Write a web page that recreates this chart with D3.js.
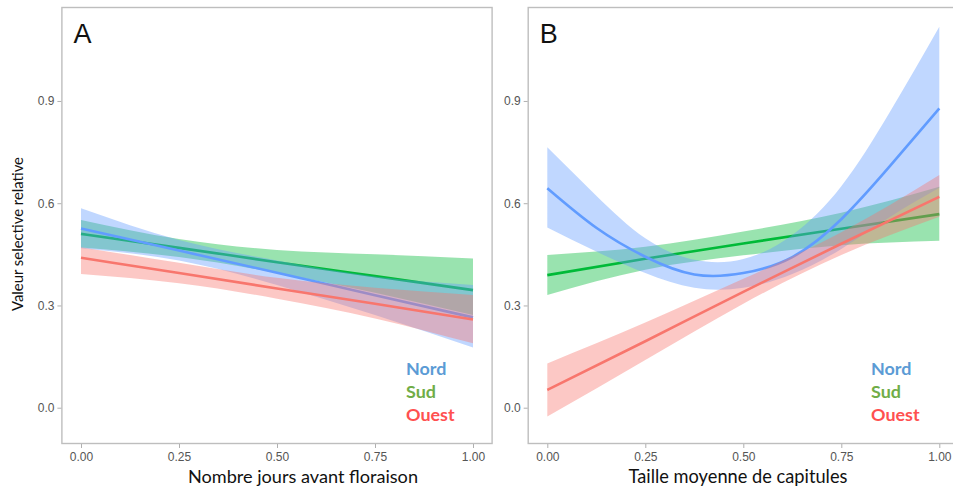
<!DOCTYPE html>
<html>
<head>
<meta charset="utf-8">
<script src="https://cdn.jsdelivr.net/npm/d3@7"></script>
<style>
  html, body { margin: 0; padding: 0; background: #fff; }
  svg { display: block; }
</style>
</head>
<body>
<svg id="chart" width="953" height="490"></svg>
<script>
// ---------- DATA ----------
const seriesNames = ["Nord", "Sud", "Ouest"];
const yTicks = [0.0, 0.3, 0.6, 0.9];
const xTicks = [0.00, 0.25, 0.50, 0.75, 1.00];

// Panel A : Nombre jours avant floraison
const xGridA   = [0, 0.25, 0.5, 0.75, 1];
const nordA_fit  = [0.526, 0.461, 0.396, 0.330, 0.265];
const nordA_lo   = [0.468, 0.432, 0.360, 0.272, 0.177];
const nordA_hi   = [0.585, 0.492, 0.432, 0.385, 0.360];
const sudA_fit   = [0.510, 0.469, 0.427, 0.386, 0.345];
const sudA_lo    = [0.470, 0.442, 0.395, 0.337, 0.272];
const sudA_hi    = [0.551, 0.495, 0.463, 0.450, 0.438];
const ouestA_fit = [0.440, 0.395, 0.350, 0.305, 0.259];
const ouestA_lo  = [0.392, 0.365, 0.320, 0.262, 0.189];
const ouestA_hi  = [0.471, 0.425, 0.381, 0.352, 0.331];

// Panel B : Taille moyenne de capitules
const xGridB_nord = [0, 0.125, 0.25, 0.375, 0.5, 0.625, 0.75, 0.875, 1];
const nordB_fit  = [0.644, 0.528, 0.443, 0.391, 0.395, 0.442, 0.553, 0.710, 0.878];
const nordB_lo   = [0.529, 0.458, 0.395, 0.352, 0.352, 0.392, 0.466, 0.560, 0.645];
const nordB_hi   = [0.764, 0.622, 0.497, 0.434, 0.436, 0.507, 0.650, 0.870, 1.118];
const xGridB     = [0, 0.25, 0.5, 0.75, 1];
const sudB_fit   = [0.389, 0.437, 0.482, 0.525, 0.568];
const sudB_lo    = [0.331, 0.405, 0.447, 0.477, 0.490];
const sudB_hi    = [0.448, 0.472, 0.517, 0.572, 0.648];
const ouestB_fit = [0.052, 0.195, 0.340, 0.481, 0.619];
const ouestB_lo  = [-0.026, 0.140, 0.305, 0.448, 0.560];
const ouestB_hi  = [0.130, 0.250, 0.378, 0.515, 0.683];

// ---------- STYLE ----------
const lineColors   = { Nord: "#619CFF", Sud: "#00BA38", Ouest: "#F8766D" };
const legendColors = { Nord: "#5B9BD5", Sud: "#70AD47", Ouest: "#FF5050" };
const drawOrder = ["Sud", "Nord", "Ouest"];

function build(xs, fit, lo, hi) {
  return xs.map((x, i) => ({ x: x, y: fit[i], lo: lo[i], hi: hi[i] }));
}

const panels = [
  {
    letter: "A", left: 61.4, right: 492.6, xTitle: "Nombre jours avant floraison",
    xTitleCenter: 303, xTitleWidth: 230, legendX: 406, showYTitle: true,
    series: {
      Nord: build(xGridA, nordA_fit, nordA_lo, nordA_hi),
      Sud: build(xGridA, sudA_fit, sudA_lo, sudA_hi),
      Ouest: build(xGridA, ouestA_fit, ouestA_lo, ouestA_hi)
    }
  },
  {
    letter: "B", left: 527.7, right: 958.9, xTitle: "Taille moyenne de capitules",
    xTitleCenter: 738, xTitleWidth: 219, legendX: 871, showYTitle: false,
    series: {
      Nord: build(xGridB_nord, nordB_fit, nordB_lo, nordB_hi),
      Sud: build(xGridB, sudB_fit, sudB_lo, sudB_hi),
      Ouest: build(xGridB, ouestB_fit, ouestB_lo, ouestB_hi)
    }
  }
];

const svg = d3.select("#chart");
const plotTop = 7, plotBottom = 444;
const y = d3.scaleLinear().domain([-0.1065, 1.1757]).range([plotBottom, plotTop]);

const titleFont = "Lato, 'Open Sans', sans-serif";
const tickFont = "'Liberation Sans', Arial, sans-serif";

function fitText(sel, target) {
  const w = sel.node().getComputedTextLength();
  const fs = parseFloat(sel.attr("font-size"));
  if (w > 0) sel.attr("font-size", (fs * target / w).toFixed(2));
}

panels.forEach((p, pi) => {
  const x = d3.scaleLinear().domain([-0.05, 1.05]).range([p.left, p.right]);
  const g = svg.append("g");

  const clipId = "clip" + pi;
  svg.append("clipPath").attr("id", clipId)
    .append("rect").attr("x", p.left).attr("y", plotTop)
    .attr("width", p.right - p.left).attr("height", plotBottom - plotTop);

  const plot = g.append("g").attr("clip-path", `url(#${clipId})`);

  const area = d3.area().x(d => x(d.x)).y0(d => y(d.lo)).y1(d => y(d.hi)).curve(d3.curveNatural);
  const line = d3.line().x(d => x(d.x)).y(d => y(d.y)).curve(d3.curveNatural);

  drawOrder.forEach(name => {
    const data = p.series[name];
    plot.append("path").datum(data).attr("d", area)
      .attr("fill", lineColors[name]).attr("fill-opacity", 0.4).attr("stroke", "none");
    plot.append("path").datum(data).attr("d", line)
      .attr("fill", "none").attr("stroke", lineColors[name]).attr("stroke-width", 2.6);
  });

  // panel border
  g.append("rect").attr("x", p.left + 0.5).attr("y", plotTop + 0.5)
    .attr("width", p.right - p.left - 1).attr("height", plotBottom - plotTop - 1)
    .attr("fill", "none").attr("stroke", "#BEBEBE").attr("stroke-width", 1.4);

  // y axis
  const yAxis = d3.axisLeft(y).tickValues(yTicks).tickFormat(d3.format(".1f"))
    .tickSize(4).tickPadding(3);
  const ya = g.append("g").attr("transform", `translate(${p.left},0)`).call(yAxis);
  ya.select(".domain").remove();
  ya.selectAll(".tick line").attr("stroke", "#B0B0B0");
  ya.selectAll(".tick text").attr("fill", "#555").attr("font-size", 12).attr("font-family", tickFont);

  // x axis
  const xAxis = d3.axisBottom(x).tickValues(xTicks).tickFormat(d3.format(".2f"))
    .tickSize(4).tickPadding(4);
  const xa = g.append("g").attr("transform", `translate(0,${plotBottom})`).call(xAxis);
  xa.select(".domain").remove();
  xa.selectAll(".tick line").attr("stroke", "#B0B0B0");
  xa.selectAll(".tick text").attr("fill", "#555").attr("font-size", 12).attr("font-family", tickFont);

  // panel letter
  g.append("text").attr("x", x(0) - 7.5).attr("y", 42.7)
    .attr("font-family", tickFont).attr("font-size", 27).attr("fill", "#111")
    .text(p.letter);

  // x title
  const xt = g.append("text").attr("x", p.xTitleCenter).attr("y", 482.7)
    .attr("text-anchor", "middle").attr("font-family", titleFont)
    .attr("font-size", 18).attr("fill", "#111").text(p.xTitle);
  fitText(xt, p.xTitleWidth);

  // legend
  const legendBaselines = [375, 398.3, 420.7];
  let legendSize = null;
  seriesNames.forEach((name, i) => {
    const t = g.append("text").attr("x", p.legendX).attr("y", legendBaselines[i])
      .attr("font-family", titleFont).attr("font-weight", 700)
      .attr("font-size", legendSize || 18).attr("fill", legendColors[name]).text(name);
    if (i === 0) { fitText(t, 40.5); legendSize = t.attr("font-size"); }
  });

  if (p.showYTitle) {
    const yt = g.append("text")
      .attr("transform", "translate(22.5,234) rotate(-90)")
      .attr("text-anchor", "middle").attr("font-family", titleFont)
      .attr("font-size", 15).attr("fill", "#111").text("Valeur selective relative");
    fitText(yt, 154);
  }
});
</script>
</body>
</html>
